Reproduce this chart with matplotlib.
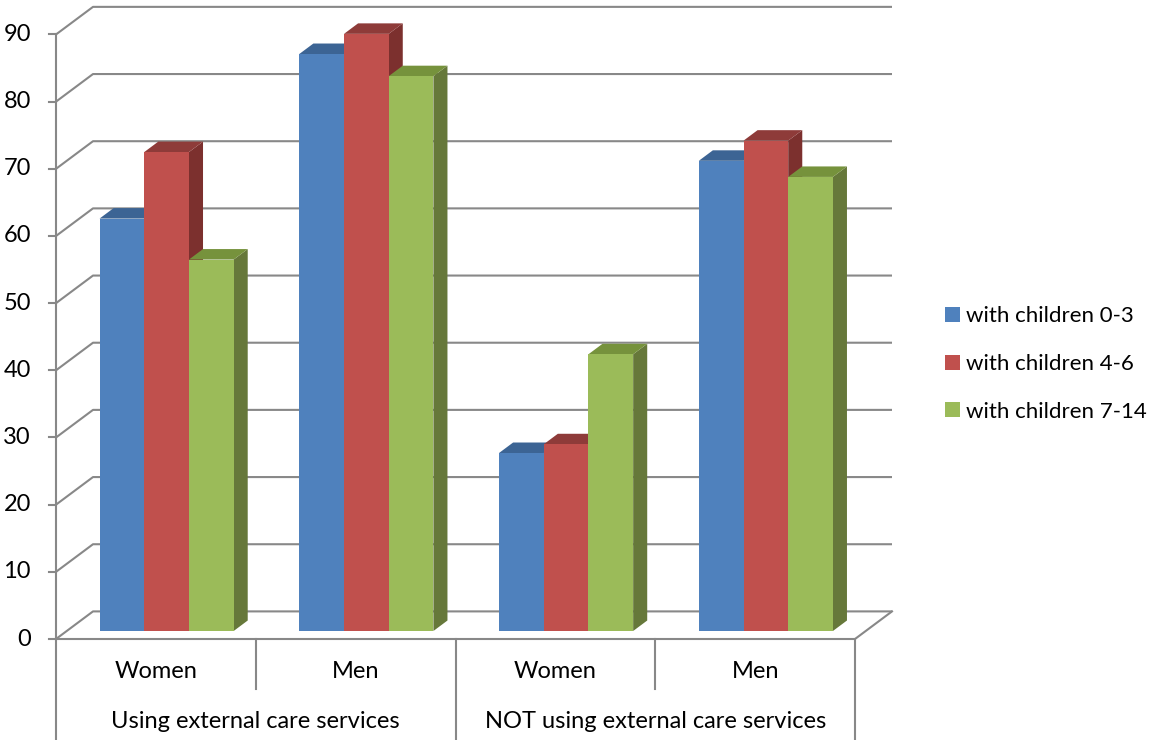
import matplotlib
matplotlib.use("Agg")
import matplotlib.pyplot as plt
from matplotlib.patches import Polygon, Patch

plt.rcParams["font.family"] = ["Lato", "DejaVu Sans"]

groups = ["Using external care services", "NOT using external care services"]
sexes = ["Women", "Men", "Women", "Men"]
series = ["with children 0-3", "with children 4-6", "with children 7-14"]
age_0_3 = [61.4, 85.9, 26.5, 70.0]
age_4_6 = [71.3, 88.9, 27.8, 73.0]
age_7_14 = [55.3, 82.6, 41.2, 67.6]
yticks = list(range(0, 100, 10))

front = ["#4F81BD", "#C0504D", "#9BBB59"]
top = ["#3C6494", "#8E3B39", "#76923C"]
side = ["#345782", "#7C302E", "#66783A"]
grid = "#888888"

# oblique projection: depth 1 shifts right and up (in data units)
W, H, DPI = 11.66, 7.40, 100
px_x = 199.75          # pixels per category
px_y = 6.717           # pixels per value unit
DX, DY = 37 / px_x, 27.6 / px_y
D0, D1 = 0.29, 0.67    # bar depth slab
bw = 44.7 / px_x       # bar width

fig = plt.figure(figsize=(W, H), dpi=DPI)
ax = fig.add_axes([0, 0, 1, 1])
ax.set_xlim(-56 / px_x, (W * DPI - 56) / px_x)
ax.set_ylim(-101 / px_y, (H * DPI - 101) / px_y)
ax.axis("off")

ncat = len(sexes)
lw = 1.5

# walls and gridlines
for v in yticks:
    ax.plot([0, DX, ncat + DX], [v, v + DY, v + DY], color=grid, lw=lw, zorder=1,
            solid_capstyle="butt")
    ax.plot([-7 / px_x, 0], [v, v], color=grid, lw=lw, zorder=1)
    ax.text(-25 / px_x, v, str(v), ha="right", va="center", fontsize=17, color="#000000")
ax.plot([0, 0], [0, yticks[-1]], color=grid, lw=lw, zorder=1)
ax.plot([0, ncat, ncat + DX], [0, 0, DY], color=grid, lw=lw, zorder=1)

# bars
data = [age_0_3, age_4_6, age_7_14]
for c in range(ncat):
    for i, vals in enumerate(data):
        v = vals[c]
        xl = c + 0.5 - 1.5 * bw + i * bw + D0 * DX
        xr = xl + bw
        yb = D0 * DY
        yt = yb + v
        dx, dy = (D1 - D0) * DX, (D1 - D0) * DY
        z = 2 + c * 3 + i
        ax.add_patch(Polygon([(xr, yb), (xr, yt), (xr + dx, yt + dy), (xr + dx, yb + dy)],
                             closed=True, fc=side[i], ec="none", zorder=z))
        ax.add_patch(Polygon([(xl, yt), (xr, yt), (xr + dx, yt + dy), (xl + dx, yt + dy)],
                             closed=True, fc=top[i], ec="none", zorder=z))
        ax.add_patch(Polygon([(xl, yb), (xr, yb), (xr, yt), (xl, yt)],
                             closed=True, fc=front[i], ec="none", zorder=z))

# category axis
ybot = -101 / px_y
ymid = -(689 - 639) / px_y
for c in range(ncat + 1):
    ax.plot([c, c], [0, ybot if c % 2 == 0 else ymid], color=grid, lw=lw, zorder=1)
for c, s in enumerate(sexes):
    ax.text(c + 0.5, -(672 - 639) / px_y, s, ha="center", va="center", fontsize=17)
for g, name in enumerate(groups):
    ax.text(2 * g + 1, -(722 - 639) / px_y, name, ha="center", va="center", fontsize=17)

handles = [Patch(fc=front[i], ec="none", label=series[i]) for i in range(3)]
fig.legend(handles=handles, loc="center left", bbox_to_anchor=(938 / (W * DPI), 1 - 364 / (H * DPI)),
           frameon=False, fontsize=16, handlelength=0.68, handleheight=0.68,
           handletextpad=0.3, labelspacing=1.24, borderpad=0.0, borderaxespad=0.3)

fig.savefig("out.png", dpi=DPI)
